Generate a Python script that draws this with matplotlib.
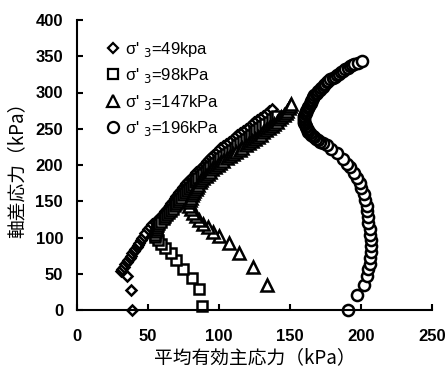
import numpy as np
import matplotlib
matplotlib.use("Agg")
import matplotlib.pyplot as plt

plt.rcParams['font.family'] = ['Liberation Sans', 'DejaVu Sans']

# stress paths: p' (kPa), q (kPa)
p49 = [38.5, 38, 35, 31, 32, 33, 34, 35, 36, 37, 38, 39, 40, 41, 42, 43, 44, 45, 46, 47, 48,
       50, 51.5, 53, 55, 57, 58, 59.5, 61, 62, 63.5, 64.5, 65.5, 66.5, 67.5, 69, 70, 71, 72, 73.5,
       75, 76, 77, 78.5, 80, 81, 83, 84, 86, 87, 88.5, 90, 91.5, 93, 94.5, 96, 98, 99.5, 101,
       103, 105, 107, 109, 111, 113, 115, 117, 119, 121, 123, 125, 127, 129, 131, 133, 135, 137]
q49 = [0, 28, 47, 54, 57, 60, 63, 66, 69, 72, 75, 78, 81, 84, 87, 90, 93, 96, 99, 102, 106,
       112, 115, 118, 121, 124, 127, 130, 133, 136, 139, 142, 145, 148, 151, 154, 157, 160, 163, 166,
       169, 172, 175, 178, 181, 184, 187, 190, 193, 196, 199, 202, 205, 208, 211, 214, 217, 220, 223,
       226, 229, 232, 235, 238, 241, 244, 247, 250, 253, 256, 259, 262, 265, 268, 271, 274, 277]

p98 = [88, 86, 81, 75, 70, 66, 62, 59, 57,
       55, 55, 55.5, 56, 56.5, 57, 58, 59.5, 61, 62, 63.5, 65, 66, 67.5, 69, 70, 71, 72, 73.5,
       74.5, 76, 77.5, 79, 80, 81.5, 83, 84, 85.5, 87, 89, 90.5, 92.5, 94, 95.5, 97, 99, 101,
       103, 105, 107, 109, 111, 113, 115, 117, 119, 121, 122.5, 124.5, 126, 128, 130.5, 132.5,
       135, 137, 139.5, 141]
q98 = [5, 29, 44, 56, 69, 79, 86, 91, 96,
       101, 104, 107, 110, 113, 116, 119, 122, 125, 128, 131, 134, 137, 140, 143, 146, 149, 152, 155,
       158, 161, 164, 167, 170, 173, 176, 179, 182, 185, 188, 191, 194, 197, 200, 203, 206, 209,
       212, 215, 218, 221, 224, 227, 230, 233, 236, 239, 242, 245, 248, 251, 254, 257,
       260, 263, 266, 268]

p147 = [134, 124, 114, 107, 100, 96, 92, 89, 86, 84, 82, 80, 79,
        79, 79.5, 80, 81, 82, 82.5, 83.5, 84.5, 85.5, 86.5, 87.5, 89, 90.5, 92, 93.5, 95, 97, 99,
        101, 103, 105.5, 108, 110, 112, 114.5, 116.5, 119, 121, 123.5, 125.5, 127.5, 129.5, 131,
        133, 135, 137, 139, 141, 142.5, 144, 145.5, 147, 148, 149, 150, 151]
q147 = [35, 60, 78, 92, 102, 108, 114, 119, 124, 129, 134, 139, 144,
        149, 152, 155, 158, 161, 164, 167, 170, 173, 176, 179, 182, 185, 188, 191, 194, 197, 200,
        203, 206, 209, 212, 215, 218, 221, 224, 227, 230, 233, 236, 239, 242, 245,
        248, 251, 254, 257, 260, 263, 266, 269, 272, 275, 278, 281, 284]

p196 = [191, 197, 202, 204, 205, 206, 206, 207, 207, 207, 206, 206, 205, 205, 204, 204, 203, 202,
        200, 199, 197, 195, 192, 190, 187, 183, 179, 176,
        173, 171, 170, 168, 167, 166, 165, 164, 163, 162.5, 162, 161.5, 161, 160.5,
        160, 160, 160, 160, 160, 160, 160.5, 161, 161.5, 162, 162.5, 163, 163.5, 164, 164.5, 165,
        165.5, 166, 166.5, 167, 168, 169, 170, 171, 172, 173, 174, 175, 176, 177, 178.5, 180,
        181.5, 183, 184.5, 186, 187.5, 189, 190.5, 192, 193.5, 195, 198, 201]
q196 = [0, 21, 35, 47, 56, 64, 72, 80, 88, 96, 104, 112, 120, 128, 136, 144, 152, 160,
        168, 175, 182, 189, 197, 202, 208, 216, 222, 227,
        230, 232, 234, 236, 238, 240, 242, 244, 246, 248, 250, 252, 254, 256,
        258, 260, 262, 264, 266, 268, 270, 272, 274, 276, 278, 280, 282, 284, 286, 288,
        290, 292, 294, 296, 298, 300, 302, 304, 306, 308, 310, 312, 314, 316, 318, 320,
        322, 324, 326, 328, 330, 332, 334, 336, 338, 340, 341, 343]

labels = ["σ' $_3$=49kpa", "σ' $_3$=98kPa", "σ' $_3$=147kPa", "σ' $_3$=196kPa"]

fig = plt.figure(figsize=(4.46, 3.72), dpi=100)
ax = fig.add_axes([77/446, 62/372, 355/446, 290/372])

style = dict(linestyle='none', markerfacecolor='white', markeredgecolor='black',
             markeredgewidth=1.8, clip_on=False)
ax.plot(p49, q49, marker='D', markersize=5, label=labels[0], **style)
ax.plot(p98, q98, marker='s', markersize=7.5, label=labels[1], **style)
ax.plot(p147, q147, marker='^', markersize=8.5, label=labels[2], **style)
ax.plot(p196, q196, marker='o', markersize=8, label=labels[3], **style)

ax.set_xlim(0, 250)
ax.set_ylim(0, 400)
ax.set_xticks(np.arange(0, 251, 50))
ax.set_yticks(np.arange(0, 401, 50))
for s in ['top', 'right']:
    ax.spines[s].set_visible(False)
for s in ['left', 'bottom']:
    ax.spines[s].set_linewidth(1.5)
ax.tick_params(axis='x', direction='in', length=4, width=1.5, pad=14)
ax.tick_params(axis='y', direction='in', length=4, width=1.5, pad=10)
for t in ax.get_xticklabels() + ax.get_yticklabels():
    t.set_fontweight('bold')
    t.set_fontsize(12)

cjk = ['Noto Sans CJK JP', 'DejaVu Sans']
ax.set_xlabel('平均有効主応力（kPa）', family=cjk, fontsize=13.5, labelpad=2)
ax.set_ylabel('軸差応力（kPa）', family=cjk, fontsize=13.5, labelpad=6)

leg = ax.legend(loc='upper left', bbox_to_anchor=(0.065, 0.955), frameon=False, fontsize=12,
                handlelength=0.7, handletextpad=0.4, labelspacing=0.45, borderaxespad=0)
for h in leg.legend_handles:
    h.set_markeredgewidth(1.6)

fig.savefig('out.png', dpi=100)
